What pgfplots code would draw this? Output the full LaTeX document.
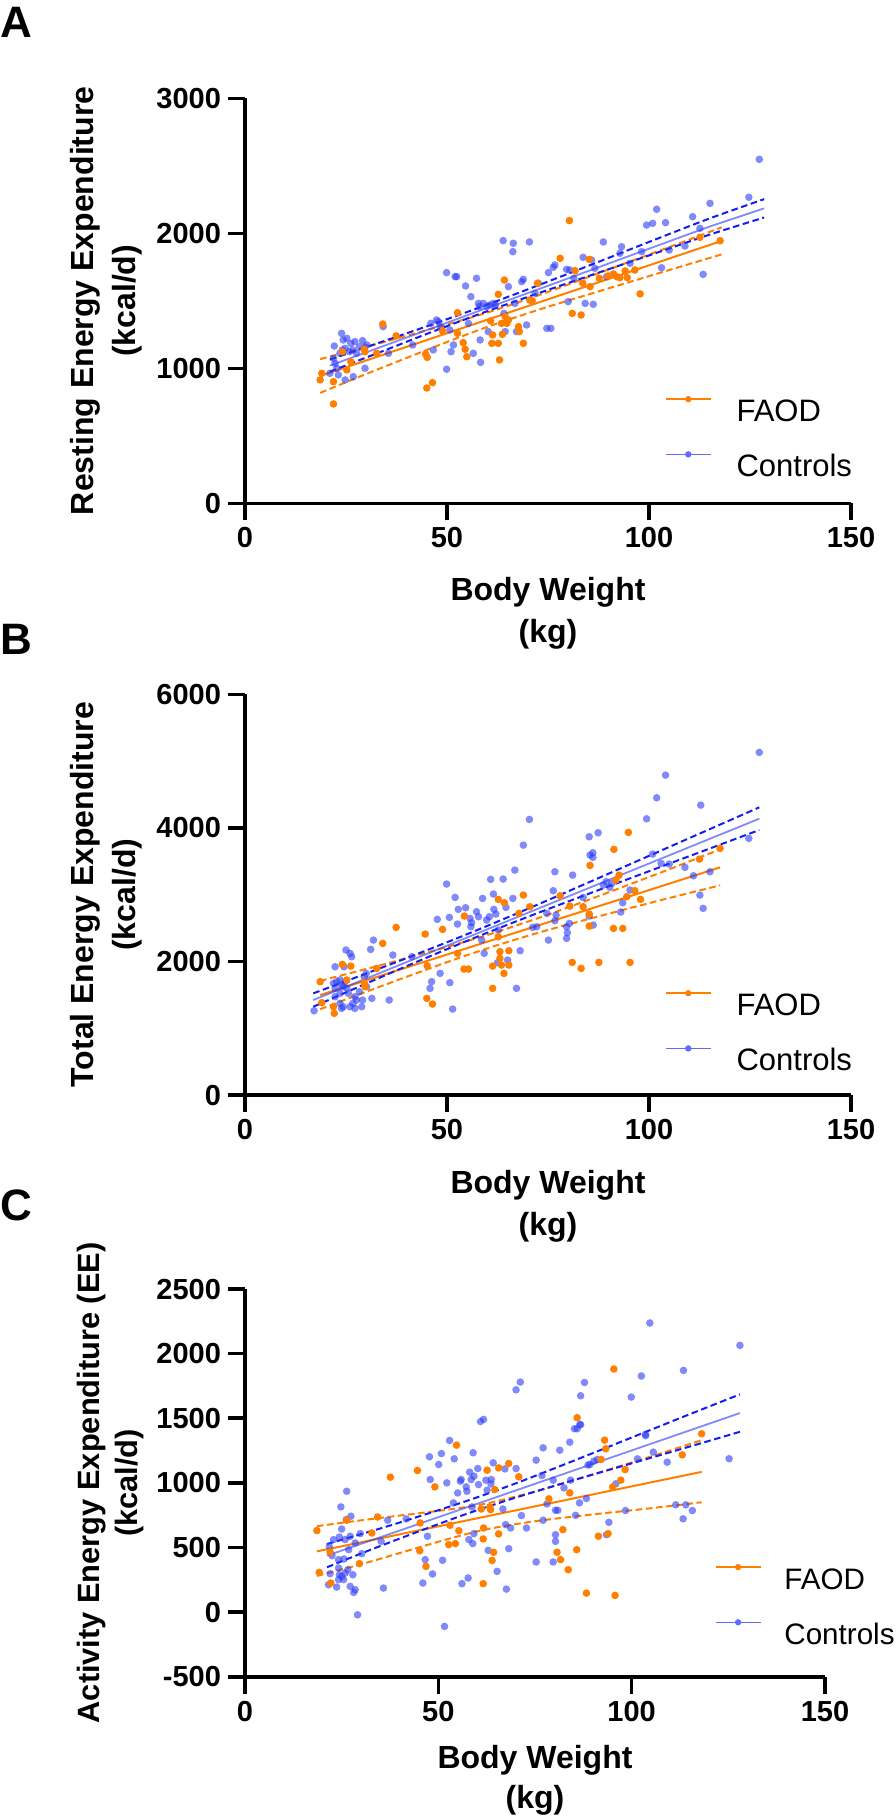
\documentclass[border=0pt]{standalone}
\usepackage{pgfplots}
\pgfplotsset{compat=1.18}
\usepackage{pgfplotstable}
\usepackage{fontspec}
\setmainfont{Liberation Sans}
\definecolor{faod}{RGB}{255,127,0}
\definecolor{ctrl}{RGB}{45,60,245}
\definecolor{ctrldash}{RGB}{20,30,240}
\definecolor{ctrlleg}{RGB}{95,110,250}
\pgfdeclareplotmark{fdot}{\pgfpathcircle{\pgfpointorigin}{\pgfplotmarksize}\pgfusepathqfill}

% ---------- scatter data (body weight kg, kcal/d) ----------
\pgfplotstableread[row sep=\\]{w v\\
18.6 914\\ 19.0 963\\ 21.9 901\\ 21.9 736\\ 24.1 1123\\ 25.2 988\\ 26.2 1049\\ 29.5 1141\\ 29.7 1123\\ 32.6 1111\\
34.1 1328\\ 37.4 1240\\ 44.7 1106\\ 45.1 1081\\ 45.0 854\\ 46.4 894\\ 48.9 1277\\ 52.6 1412\\ 52.6 1259\\ 54.0 1190\\
54.5 1141\\ 54.9 1086\\ 60.8 1351\\ 61.1 1185\\ 61.3 1247\\ 62.7 1548\\ 62.7 1185\\ 63.0 1062\\ 63.5 1333\\ 63.7 1252\\
64.2 1654\\ 64.4 1383\\ 64.8 1333\\ 65.2 1358\\ 67.7 1309\\ 67.9 1272\\ 68.9 1185\\ 70.5 1506\\ 71.1 1501\\ 72.4 1630\\
78.0 1815\\ 81.0 1407\\ 83.2 1395\\ 80.3 2094\\ 81.7 1723\\ 83.6 1630\\ 85.2 1807\\ 85.4 1605\\ 87.7 1667\\ 89.9 1684\\
91.2 1699\\ 92.0 1679\\ 92.8 1672\\ 94.1 1721\\ 94.6 1672\\ 96.5 1728\\ 97.8 1551\\ 112.6 1970\\ 117.6 1945\\
}\faodA
\pgfplotstableread[row sep=\\]{w v\\
21.0 963\\ 21.9 1074\\ 22.3 1037\\ 22.1 1165\\ 22.7 1000\\ 23.1 951\\ 23.5 1111\\ 23.9 1259\\ 24.1 1136\\ 24.3 1210\\
24.8 1148\\ 24.8 914\\ 25.2 1222\\ 25.8 1123\\ 26.2 1185\\ 26.7 1136\\ 26.8 938\\ 27.2 1198\\ 27.6 1111\\ 28.3 1160\\
29.1 1205\\ 29.7 1156\\ 29.7 1000\\ 30.1 1173\\ 34.2 1309\\ 35.5 1111\\ 41.5 1173\\ 46.0 1333\\ 46.6 1136\\ 47.4 1358\\
47.9 1346\\ 48.3 1309\\ 49.9 993\\ 49.9 1709\\ 52.0 1679\\ 52.4 1679\\ 51.0 1123\\ 50.7 1284\\ 51.6 1173\\ 54.6 1610\\
55.3 1333\\ 55.9 1531\\ 56.5 1111\\ 57.3 1667\\ 57.8 1481\\ 58.0 1457\\ 58.2 1210\\ 58.3 1044\\ 59.0 1481\\ 59.8 1457\\
60.2 1272\\ 60.6 1469\\ 61.5 1481\\ 62.0 1469\\ 63.9 1946\\ 64.1 1407\\ 64.4 1272\\ 65.2 1605\\ 66.4 1926\\ 66.3 1864\\
66.8 1481\\ 67.2 1272\\ 68.5 1642\\ 68.9 1659\\ 69.7 1321\\ 70.4 1936\\ 71.8 1556\\ 72.6 1630\\ 74.7 1296\\ 75.7 1296\\
75.1 1709\\ 76.3 1748\\ 76.7 1765\\ 79.6 1733\\ 80.0 1494\\ 80.4 1728\\ 81.4 1667\\ 83.7 1822\\ 84.2 1481\\ 85.8 1802\\
86.2 1474\\ 86.6 1741\\ 88.7 1936\\ 89.5 1679\\ 92.8 1852\\ 93.2 1901\\ 95.3 1778\\ 98.2 1864\\ 99.4 2061\\ 100.9 2074\\
101.9 2178\\ 103.1 1745\\ 104.1 2079\\ 105.0 1876\\ 108.9 1906\\ 110.8 2123\\ 112.6 2037\\ 113.4 1696\\ 115.1 2222\\ 124.7 2267\\
127.3 2548\\
}\ctrlA
\pgfplotstableread[row sep=\\]{w v\\
18.6 1697\\ 19.0 1382\\ 21.9 1322\\ 22.1 1223\\ 24.1 1956\\ 25.2 1722\\ 26.2 1931\\ 29.5 1682\\ 29.7 1622\\ 32.6 1896\\
34.1 2270\\ 37.4 2510\\ 44.6 2410\\ 45.1 1936\\ 45.0 1447\\ 46.4 1362\\ 48.9 2480\\ 54.3 2680\\ 54.2 1886\\ 55.3 1886\\
52.6 2121\\ 61.3 1597\\ 61.3 1931\\ 62.7 2929\\ 62.7 2370\\ 63.5 1946\\ 64.2 2879\\ 64.1 1821\\ 63.1 2146\\ 63.1 2046\\
65.3 2161\\ 65.3 1946\\ 68.9 2994\\ 67.8 2720\\ 70.5 2819\\ 78.0 2984\\ 80.4 2829\\ 81.0 1986\\ 83.2 1896\\ 83.7 2819\\
85.2 2530\\ 85.2 2710\\ 87.6 1986\\ 91.2 2495\\ 93.5 2495\\ 95.3 1986\\ 94.9 3932\\ 91.3 3678\\ 85.4 3438\\ 91.8 3219\\
92.6 3293\\ 94.5 2969\\ 96.5 3059\\ 97.9 2929\\ 112.5 3533\\ 117.6 3693\\
}\faodB
\pgfplotstableread[row sep=\\]{w v\\
17.1 1262\\ 21.9 1672\\ 22.3 1597\\ 22.7 1697\\ 23.5 1722\\ 23.9 1647\\ 24.3 1622\\ 24.8 1697\\ 25.2 1597\\ 25.6 1522\\
24.5 1921\\ 26.0 2121\\ 26.4 2071\\ 25.0 2171\\ 26.7 1372\\ 27.2 1472\\ 27.6 1422\\ 28.3 1547\\ 28.9 1322\\ 29.1 1422\\
29.5 1771\\ 30.0 1821\\ 30.1 1622\\ 31.4 1447\\ 22.3 1921\\ 22.3 1472\\ 23.5 1372\\ 23.9 1297\\ 26.0 1322\\ 27.2 1297\\
23.5 1522\\ 24.3 1322\\ 31.1 2181\\ 31.8 2320\\ 35.7 1422\\ 36.6 2096\\ 41.3 2071\\ 45.8 1597\\ 46.2 1697\\ 48.3 1821\\
50.7 1682\\ 51.4 1287\\ 47.6 2630\\ 50.6 2660\\ 49.9 3159\\ 52.0 2959\\ 52.6 2560\\ 52.8 2780\\ 54.6 2804\\ 55.7 2645\\
55.9 2520\\ 56.1 2580\\ 57.3 2745\\ 57.8 2670\\ 58.6 2320\\ 58.8 2944\\ 59.2 2121\\ 60.8 3229\\ 61.5 3009\\ 61.6 2780\\
62.1 2710\\ 60.5 2670\\ 59.8 2620\\ 62.7 2470\\ 62.5 1981\\ 63.9 3234\\ 64.6 2809\\ 65.0 2021\\ 66.3 2944\\ 66.8 3368\\
67.2 1597\\ 68.1 2161\\ 68.9 3742\\ 70.4 4127\\ 71.2 2510\\ 72.2 2520\\ 75.1 2320\\ 74.7 2720\\ 76.7 3343\\ 76.3 3059\\
77.0 2695\\ 76.7 2610\\ 79.6 2520\\ 79.8 2430\\ 79.6 2345\\ 80.3 2570\\ 81.1 3293\\ 83.7 2959\\ 85.2 2680\\ 85.4 3593\\
86.1 3628\\ 86.1 3558\\ 85.2 3867\\ 87.4 3927\\ 86.2 2545\\ 88.7 3144\\ 89.4 3194\\ 90.3 3109\\ 90.8 3169\\ 93.5 2879\\
93.0 2740\\ 95.3 3069\\ 99.4 4136\\ 100.9 3608\\ 101.9 4451\\ 103.0 3468\\ 104.1 4790\\ 105.0 3458\\ 108.9 3409\\ 111.0 3283\\
112.6 2994\\ 112.8 4341\\ 113.4 2795\\ 115.1 3343\\ 124.7 3843\\ 127.3 5130\\
}\ctrlB
\pgfplotstableread[row sep=\\]{w v\\
18.6 631\\ 19.2 307\\ 22.0 465\\ 22.2 225\\ 26.3 711\\ 29.6 375\\ 34.3 736\\ 32.8 612\\ 37.6 1044\\ 44.6 1096\\
45.3 690\\ 45.2 475\\ 46.8 354\\ 49.1 969\\ 53.0 672\\ 52.7 522\\ 54.4 530\\ 54.7 1292\\ 55.3 630\\ 61.1 798\\
61.6 566\\ 61.6 220\\ 61.7 651\\ 62.6 1098\\ 63.3 814\\ 63.5 793\\ 63.9 400\\ 64.3 463\\ 64.6 948\\ 65.6 605\\
65.6 1116\\ 68.2 1150\\ 70.8 1047\\ 78.6 876\\ 80.7 463\\ 81.6 406\\ 82.2 638\\ 83.6 328\\ 84.0 923\\ 85.8 483\\
85.9 1504\\ 88.3 147\\ 91.4 587\\ 92.1 1181\\ 93.0 1331\\ 93.3 1264\\ 93.9 607\\ 95.1 969\\ 95.7 129\\ 97.2 1021\\
98.3 1103\\ 95.4 1881\\ 113.1 1217\\ 118.1 1380\\
}\faodC
\pgfplotstableread[row sep=\\]{w v\\
26.3 935\\ 24.8 814\\ 27.4 742\\ 26.2 716\\ 25.0 643\\ 21.8 509\\ 22.9 561\\ 24.4 581\\ 25.9 561\\ 27.2 587\\
29.8 607\\ 28.5 535\\ 26.8 483\\ 30.2 452\\ 22.5 437\\ 24.2 406\\ 25.6 411\\ 22.0 297\\ 24.2 341\\ 24.4 289\\
25.0 276\\ 25.9 302\\ 26.6 328\\ 25.5 251\\ 24.2 251\\ 27.9 289\\ 21.6 212\\ 23.7 194\\ 27.2 199\\ 28.5 173\\
28.1 152\\ 29.1 -21\\ 35.8 186\\ 35.2 548\\ 36.9 711\\ 41.7 721\\ 47.2 587\\ 46.6 406\\ 46.0 225\\ 48.5 295\\
47.9 1026\\ 47.7 1202\\ 50.1 1142\\ 50.8 1227\\ 52.9 1328\\ 52.2 1000\\ 51.1 401\\ 51.6 -111\\ 54.1 1186\\ 53.9 845\\
55.0 922\\ 55.7 1013\\ 55.9 1026\\ 56.1 220\\ 57.7 264\\ 57.2 969\\ 57.4 935\\ 58.1 1083\\ 58.5 1026\\ 59.2 1052\\
59.0 1233\\ 58.7 814\\ 57.9 561\\ 59.2 607\\ 58.9 530\\ 60.2 1111\\ 60.4 987\\ 60.9 1475\\ 61.7 1491\\ 62.3 1021\\
62.6 943\\ 62.9 478\\ 63.7 1026\\ 63.6 992\\ 64.2 1155\\ 65.2 315\\ 66.7 798\\ 67.2 1108\\ 67.4 677\\ 67.6 178\\
68.2 491\\ 68.7 651\\ 70.1 1111\\ 71.5 747\\ 72.8 651\\ 75.3 388\\ 75.3 1176\\ 77.1 711\\ 77.1 1271\\ 76.8 1057\\
79.7 1021\\ 78.1 837\\ 80.3 788\\ 79.7 388\\ 80.3 599\\ 80.3 548\\ 80.9 788\\ 81.4 1253\\ 82.5 961\\ 84.2 1021\\
84.0 1315\\ 85.2 1419\\ 86.6 1452\\ 85.9 1419\\ 85.5 749\\ 86.5 845\\ 88.3 879\\ 89.2 1142\\ 90.2 1168\\ 91.1 1181\\
93.5 599\\ 94.1 695\\ 98.4 786\\ 101.5 1186\\ 103.6 1375\\ 105.6 1238\\ 109.2 1160\\ 104.7 2237\\ 128.0 2064\\ 113.4 1870\\
102.5 1827\\ 87.8 1777\\ 99.9 1664\\ 86.8 1674\\ 86.8 1450\\ 103.6 1365\\ 125.2 1187\\ 88.7 1138\\ 95.9 993\\ 111.4 830\\
114.0 830\\ 115.7 786\\ 113.3 722\\ 70.1 1720\\ 71.2 1780\\
}\ctrlC

% ---------- fitted lines with 95% bands (w, fit, lower, upper) ----------
\pgfplotstableread[row sep=\\]{w fit lo hi\\
18.6 943 818 1068\\ 30 1058 958 1158\\ 40 1159 1077 1241\\ 52 1280 1218 1342\\ 62 1380 1328 1432\\
75 1511 1456 1566\\ 90 1662 1592 1732\\ 105 1813 1728 1898\\ 118 1944 1844 2044\\
}\fitFA
\pgfplotstableread[row sep=\\]{w fit lo hi\\
21 1020 975 1065\\ 35 1173 1138 1208\\ 45 1283 1255 1311\\ 57 1415 1391 1439\\ 70 1557 1529 1585\\
85 1721 1683 1759\\ 100 1886 1836 1936\\ 115 2050 1990 2110\\ 128.5 2185 2117 2253\\
}\fitCA
\pgfplotstableread[row sep=\\]{w fit lo hi\\
18.6 1497 1285 1709\\ 30 1717 1547 1887\\ 40 1910 1770 2050\\ 52 2142 2032 2252\\ 62 2335 2235 2435\\
75 2586 2471 2701\\ 90 2875 2715 3035\\ 105 3165 2950 3380\\ 117.6 3409 3139 3679\\
}\fitFB
\pgfplotstableread[row sep=\\]{w fit lo hi\\
16.9 1422 1322 1522\\ 30 1744 1669 1819\\ 40 1990 1930 2050\\ 55 2359 2309 2409\\ 70 2728 2668 2788\\
85 3097 3012 3182\\ 100 3466 3351 3581\\ 115 3835 3690 3980\\ 127.3 4138 3968 4308\\
}\fitCB
\pgfplotstableread[row sep=\\]{w fit lo hi\\
18.6 470 280 665\\ 30 540 370 710\\ 40 602 457 747\\ 52 676 561 791\\ 62 738 638 838\\
75 818 703 933\\ 90 911 756 1066\\ 105 1004 804 1204\\ 118.1 1085 850 1330\\
}\fitFC
\pgfplotstableread[row sep=\\]{w fit lo hi\\
21.2 437 347 527\\ 30 528 453 603\\ 40 631 569 693\\ 57 807 757 857\\ 70 941 886 996\\
85 1096 1021 1171\\ 100 1251 1151 1351\\ 115 1406 1281 1531\\ 128 1540 1395 1685\\
}\fitCC

\pgfplotsset{
  panel/.style={
    scale only axis, axis lines*=left, clip=false,
    xmin=0, xmax=150, xtick={0,50,100,150},
    tick align=outside, major tick length=8.5pt,
    axis line style={line width=1.8pt, black},
    every tick/.style={line width=1.8pt, black},
    ticklabel style={font=\bfseries\fontsize{14.5}{16}\selectfont},
    /pgf/number format/assume math mode=true,
    /pgf/number format/1000 sep={},
    scaled ticks=false,
    xlabel={Body Weight\\(kg)},
    label style={font=\bfseries\fontsize{16}{21}\selectfont, align=center},
    legend style={draw=none, fill=none, inner sep=0pt, outer sep=0pt, anchor=north west,
      row sep=15pt, nodes={inner sep=0pt, text height=11pt, text depth=0pt},
      font=\fontsize{15.5}{18}\selectfont,
      /tikz/every odd column/.append style={column sep=12.5pt}},
    legend cell align=left,
    legend image code/.code={\draw[mark repeat=2,mark phase=2,#1] plot coordinates {(0pt,5.5pt) (11.25pt,5.5pt) (22.5pt,5.5pt)};},
  },
  cmarks/.style={only marks, mark=fdot, mark size=1.9pt, color=ctrl, mark options={fill opacity=0.6}, forget plot},
  fmarks/.style={only marks, mark=fdot, mark size=1.9pt, color=faod, forget plot},
  ffit/.style={no marks, color=faod, line width=1pt, forget plot},
  fci/.style={no marks, smooth, color=faod, line width=1pt, dash pattern=on 3.3pt off 1.8pt, forget plot},
  cfit/.style={no marks, color=ctrl, draw opacity=0.6, line width=0.9pt, forget plot},
  cci/.style={no marks, smooth, color=ctrldash, line width=1pt, dash pattern=on 3.3pt off 1.8pt, forget plot},
}

\newcommand{\legendentries}{%
  \addlegendimage{color=faod, line width=0.8pt, mark=fdot, mark size=1.6pt}
  \addlegendentry{FAOD}
  \addlegendimage{color=ctrlleg, line width=0.8pt, mark=fdot, mark size=1.6pt}
  \addlegendentry{Controls}
}

\begin{document}
\begin{tikzpicture}
\useasboundingbox (0pt,0pt) rectangle (447.5pt,-910pt);

% ================= A =================
\begin{axis}[panel, at={(122.5pt,-251.65pt)}, anchor=south west,
  width=303pt, height=202.5pt,
  ymin=0, ymax=3000, ytick={0,1000,2000,3000},
  ylabel={Resting Energy Expenditure\\(kcal/d)},
  ylabel style={at={(axis description cs:-0.229,0.5)}, anchor=center},
  xlabel style={at={(axis description cs:0.5,-0.272)}, anchor=center},
  legend style={at={(0.693,0.265)}}]
\legendentries
\addplot[cmarks] table[x=w,y=v] {\ctrlA};
\addplot[fmarks] table[x=w,y=v] {\faodA};
\addplot[ffit] table[x=w,y=fit] {\fitFA};
\addplot[fci] table[x=w,y=lo] {\fitFA};
\addplot[fci] table[x=w,y=hi] {\fitFA};
\addplot[cfit] table[x=w,y=fit] {\fitCA};
\addplot[cci] table[x=w,y=lo] {\fitCA};
\addplot[cci] table[x=w,y=hi] {\fitCA};
\end{axis}

% ================= B =================
\begin{axis}[panel, at={(122.5pt,-547.5pt)}, anchor=south west,
  width=303pt, height=200.35pt,
  ymin=0, ymax=6000, ytick={0,2000,4000,6000},
  ylabel={Total Energy Expenditure\\(kcal/d)},
  ylabel style={at={(axis description cs:-0.229,0.5)}, anchor=center},
  xlabel style={at={(axis description cs:0.5,-0.277)}, anchor=center},
  legend style={at={(0.693,0.262)}}]
\legendentries
\addplot[cmarks] table[x=w,y=v] {\ctrlB};
\addplot[fmarks] table[x=w,y=v] {\faodB};
\addplot[ffit] table[x=w,y=fit] {\fitFB};
\addplot[fci] table[x=w,y=lo] {\fitFB};
\addplot[fci] table[x=w,y=hi] {\fitFB};
\addplot[cfit] table[x=w,y=fit] {\fitCB};
\addplot[cci] table[x=w,y=lo] {\fitCB};
\addplot[cci] table[x=w,y=hi] {\fitCB};
\end{axis}

% ================= C =================
\begin{axis}[panel, at={(122.5pt,-838.35pt)}, anchor=south west,
  width=290pt, height=193.85pt,
  ymin=-500, ymax=2500, ytick={-500,0,500,1000,1500,2000,2500},
  ylabel={Activity Energy Expenditure (EE)\\(kcal/d)},
  ylabel style={at={(axis description cs:-0.232,0.5)}, anchor=center, font=\bfseries\fontsize{15.4}{19}\selectfont},
  xlabel style={at={(axis description cs:0.5,-0.268)}, anchor=center, font=\bfseries\fontsize{16}{20}\selectfont},
  legend style={at={(0.81,0.291)}, font=\fontsize{14.8}{18}\selectfont,
    /tikz/every odd column/.append style={column sep=11.5pt}}]
\legendentries
\addplot[cmarks] table[x=w,y=v] {\ctrlC};
\addplot[fmarks] table[x=w,y=v] {\faodC};
\addplot[ffit] table[x=w,y=fit] {\fitFC};
\addplot[fci] table[x=w,y=lo] {\fitFC};
\addplot[fci] table[x=w,y=hi] {\fitFC};
\addplot[cfit] table[x=w,y=fit] {\fitCC};
\addplot[cci] table[x=w,y=lo] {\fitCC};
\addplot[cci] table[x=w,y=hi] {\fitCC};
\end{axis}

\node[anchor=base west, inner sep=0pt, font=\bfseries\fontsize{22}{24}\selectfont] at (0pt,-18.5pt) {A};
\node[anchor=base west, inner sep=0pt, font=\bfseries\fontsize{22}{24}\selectfont] at (0pt,-327pt) {B};
\node[anchor=base west, inner sep=0pt, font=\bfseries\fontsize{22}{24}\selectfont] at (0pt,-610pt) {C};
\end{tikzpicture}
\end{document}
